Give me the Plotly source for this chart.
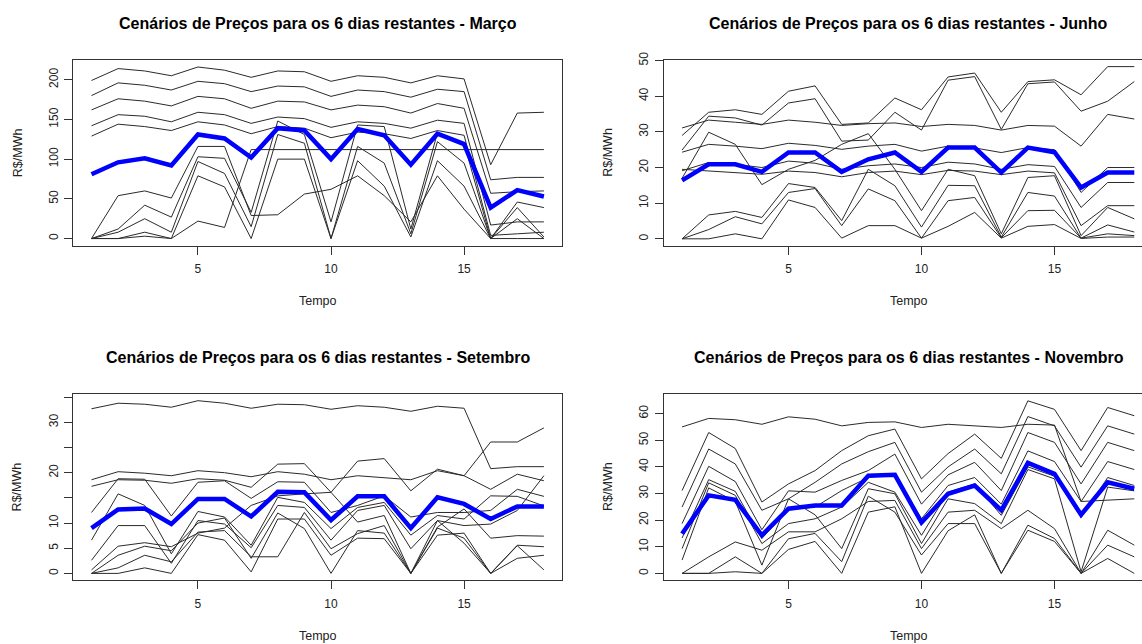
import plotly.graph_objects as go

tempo = list(range(1, 19))

# ---------------- Março ----------------
marco_cenarios = [
    [199, 214, 211, 205, 216, 212, 203, 211, 210, 198, 205, 203, 196, 205, 201, 93, 158, 159],
    [180, 196, 193, 187, 198, 195, 185, 192, 191, 179, 187, 185, 178, 188, 185, 74, 77, 77],
    [162, 176, 173, 167, 179, 176, 164, 173, 172, 162, 168, 166, 158, 170, 164, 57, 59, 60],
    [142, 156, 154, 147, 159, 156, 145, 153, 151, 140, 147, 145, 139, 149, 145, 17, 21, 21],
    [129, 144, 141, 136, 147, 143, 132, 141, 139, 127, 134, 132, 126, 136, 130, 4, 6, 8],
    [0, 0, 3, 0, 22, 14, 112, 112, 112, 112, 112, 112, 112, 112, 112, 112, 112, 112],
    [0, 54, 60, 51, 116, 116, 29, 30, 56, 62, 79, 54, 21, 79, 37, 0, 46, 39],
    [0, 12, 42, 27, 103, 101, 33, 148, 131, 21, 143, 141, 12, 133, 120, 0, 25, 0],
    [0, 8, 25, 8, 97, 82, 15, 131, 120, 0, 116, 95, 6, 122, 95, 0, 39, 2],
    [0, 0, 8, 0, 79, 65, 0, 100, 100, 0, 98, 66, 2, 98, 66, 0, 0, 0],
]
marco_media = [81, 96, 101, 92, 131, 126, 102, 139, 136, 100, 138, 130, 93, 132, 119, 39, 61, 53]

# ---------------- Junho ----------------
junho_cenarios = [
    [29, 35.5, 36.2, 34.9, 41.4, 42.9, 32.1, 32.5, 39.5, 36.2, 45.4, 46.5, 35.5, 44.1, 44.6, 40.4, 48.3, 48.3],
    [24.9, 34.4, 33.9, 31.9, 38.1, 39.3, 27.4, 27.7, 35.5, 30.5, 44.5, 45.5, 30.7, 43.5, 44.0, 35.8, 38.6, 44.1],
    [31.1, 33.3, 32.7, 32.1, 33.3, 32.7, 31.8, 32.3, 32.5, 31.5, 32.1, 31.8, 30.5, 31.8, 31.6, 26.0, 34.9, 33.6],
    [24.3, 26.5, 26.0, 25.3, 26.8, 26.2, 25.1, 26.0, 26.5, 24.6, 26.0, 25.5, 24.2, 25.6, 25.0, 13.0, 20.0, 20.0],
    [19.1, 21.4, 20.9, 20.0, 21.8, 21.2, 19.5, 20.5, 21.0, 20.0, 21.5, 21.0, 19.5, 20.8, 20.3, 8.8, 15.8, 15.8],
    [19.5, 19.0, 18.6, 18.1, 19.0, 18.6, 17.4, 18.6, 19.0, 18.0, 19.2, 19.0, 18.0, 19.0, 18.5, 3.7, 9.3, 9.3],
    [17.0, 29.9, 26.5, 15.2, 19.5, 22.0, 26.5, 29.5, 19.5, 7.9, 19.5, 17.7, 1.4, 17.2, 17.7, 0.9, 8.8, 5.6],
    [0, 6.7, 7.7, 6.0, 15.5, 14.4, 5.1, 19.5, 14.9, 3.3, 15.0, 14.9, 0.5, 13.0, 12.0, 0.2, 3.9, 1.9],
    [0, 2.6, 6.2, 4.2, 13.0, 14.1, 3.7, 14.0, 10.7, 0.2, 10.7, 11.6, 0.3, 7.9, 8.0, 0.2, 1.4, 0.9],
    [0, 0, 1.4, 0, 10.9, 8.8, 0.2, 3.7, 3.7, 0.2, 3.5, 7.4, 0.2, 3.5, 4.0, 0.1, 0.5, 0.5],
]
junho_media = [16.4, 20.9, 20.9, 18.8, 24.2, 24.2, 18.8, 22.3, 24.2, 18.8, 25.6, 25.6, 18.6, 25.6, 24.3, 14.4, 18.6, 18.6]

# ---------------- Setembro ----------------
setembro_cenarios = [
    [32.7, 33.8, 33.6, 33.0, 34.3, 33.8, 32.8, 33.6, 33.5, 32.6, 33.3, 33.0, 32.2, 33.2, 32.8, 20.8, 21.2, 21.2],
    [18.6, 20.2, 19.9, 19.4, 20.4, 20.0, 19.2, 20.2, 19.7, 18.6, 19.4, 19.0, 18.6, 20.4, 19.4, 26.1, 26.1, 28.9],
    [17.3, 18.6, 18.5, 17.9, 18.8, 18.5, 17.1, 21.7, 21.8, 16.1, 22.3, 22.8, 16.4, 20.7, 19.4, 16.7, 19.7, 18.4],
    [12.1, 18.8, 18.7, 11.4, 18.1, 18.4, 14.9, 18.2, 18.1, 12.1, 13.5, 15.4, 11.2, 12.1, 12.1, 12.5, 16.7, 15.3],
    [6.6, 15.8, 13.5, 3.9, 12.3, 11.2, 5.6, 15.1, 14.1, 8.9, 13.1, 14.1, 7.6, 11.5, 10.8, 15.4, 15.3, 13.4],
    [2.6, 9.5, 9.5, 2.0, 10.5, 9.8, 5.1, 13.5, 13.1, 6.6, 12.5, 13.5, 4.9, 10.5, 9.5, 9.8, 12.5, 19.4],
    [0.7, 5.4, 6.1, 5.3, 8.0, 9.0, 13.5, 15.4, 15.8, 16.1, 10.2, 11.5, 0, 9.2, 12.8, 7.0, 7.5, 7.4],
    [0, 1.1, 3.6, 2.3, 8.2, 8.5, 3.3, 3.3, 12.1, 4.9, 7.9, 9.5, 0, 7.6, 8.0, 0, 5.6, 5.3],
    [0, 0, 1.1, 0, 7.7, 6.6, 0.3, 10.8, 10.8, 3.6, 7.0, 6.9, 0, 10.5, 6.0, 0, 3.0, 3.6],
    [0, 3.6, 5.4, 4.5, 10.0, 11.0, 3.0, 12.0, 8.9, 0, 8.5, 8.0, 0, 9.0, 7.0, 0, 5.5, 0.7],
]
setembro_media = [9.0, 12.7, 12.9, 9.8, 14.8, 14.8, 11.3, 16.2, 16.1, 10.6, 15.3, 15.3, 9.0, 15.1, 13.8, 10.8, 13.3, 13.3]

# ---------------- Novembro ----------------
novembro_cenarios = [
    [55.0, 58.2, 57.7, 56.0, 58.8, 57.9, 55.4, 56.7, 56.9, 54.8, 56.0, 55.4, 54.8, 56.0, 55.7, 27.0, 27.5, 28.0],
    [31.1, 52.9, 46.9, 26.8, 33.6, 38.6, 46.1, 51.7, 54.2, 35.5, 45.0, 52.3, 43.2, 64.8, 61.6, 46.1, 62.3, 59.2],
    [24.9, 46.7, 41.1, 23.7, 28.0, 34.2, 41.1, 45.7, 49.2, 30.5, 40.0, 46.7, 37.4, 58.9, 55.4, 39.9, 55.4, 52.3],
    [18.7, 40.2, 34.5, 16.4, 31.0, 30.5, 34.9, 38.6, 44.8, 26.0, 37.0, 41.7, 31.1, 52.9, 49.2, 33.6, 49.2, 46.1],
    [13.3, 35.2, 30.8, 13.1, 24.0, 24.9, 31.1, 36.0, 37.4, 20.5, 33.0, 36.0, 26.0, 46.0, 42.0, 27.0, 42.0, 39.0],
    [9.3, 34.0, 29.3, 11.2, 18.7, 20.5, 24.9, 34.2, 30.5, 14.3, 30.5, 33.6, 21.8, 40.0, 36.5, 21.0, 36.0, 33.0],
    [5.0, 32.1, 27.0, 3.1, 28.0, 22.0, 9.3, 31.8, 29.9, 11.2, 28.0, 26.2, 18.7, 39.0, 35.5, 0.6, 32.4, 31.0],
    [0, 6.2, 11.8, 8.7, 15.6, 15.6, 20.5, 27.0, 27.4, 9.3, 23.0, 23.7, 16.8, 23.7, 16.8, 0, 16.2, 10.6],
    [0, 0, 6.2, 0, 13.0, 15.0, 4.4, 29.0, 23.0, 6.9, 18.7, 18.7, 0, 18.1, 13.1, 0, 10.6, 6.2],
    [0, 0, 0.6, 0, 9.0, 12.0, 0, 23.0, 25.0, 0, 16.0, 22.0, 0, 16.2, 12.0, 0, 5.6, 0],
]
novembro_media = [14.9, 29.3, 27.6, 14.3, 24.3, 25.5, 25.5, 36.7, 37.0, 19.1, 29.9, 33.0, 23.7, 41.5, 37.4, 22.0, 34.2, 31.8]

x_ticks = [5, 10, 15]

W, H = 1142, 644
FONT = "Liberation Sans, Arial, sans-serif"

# panel geometry (pixels)
panels = [
    dict(name="Março", cen=marco_cenarios, med=marco_media, x0=73.4, x1=562.0, y0=52.5, y1=240.7,
         xr=[0.32, 18.68], yr=[-9.0, 225.0], yt=[0, 50, 100, 150, 200], ytt=None),
    dict(name="Junho", cen=junho_cenarios, med=junho_media, x0=664.0, x1=1142.0, y0=52.5, y1=240.7,
         xr=[0.32, 0.32 + (1142 - 664) / 26.6], yr=[-1.93, 50.2], yt=[0, 10, 20, 30, 40, 50], ytt=None),
    dict(name="Setembro", cen=setembro_cenarios, med=setembro_media, x0=73.4, x1=562.0, y0=390.5, y1=579.5,
         xr=[0.32, 18.68], yr=[-1.37, 35.7], yt=[0, 5, 10, 15, 20, 25, 30, 35],
         ytt=["0", "5", "10", "", "20", "", "30", ""]),
    dict(name="Novembro", cen=novembro_cenarios, med=novembro_media, x0=664.0, x1=1142.0, y0=390.5, y1=579.5,
         xr=[0.32, 0.32 + (1142 - 664) / 26.6], yr=[-2.6, 67.5], yt=[0, 10, 20, 30, 40, 50, 60], ytt=None),
]

fig = go.Figure()
layout = dict(width=W, height=H, margin=dict(l=0, r=0, t=0, b=0),
              paper_bgcolor="white", plot_bgcolor="white", showlegend=False,
              font=dict(family=FONT, color="black", size=12))
annotations = []

for i, p in enumerate(panels, start=1):
    xa = "x" if i == 1 else f"x{i}"
    ya = "y" if i == 1 else f"y{i}"
    for serie in p["cen"]:
        fig.add_trace(go.Scatter(x=tempo, y=serie, mode="lines", xaxis=xa, yaxis=ya,
                                 line=dict(color="#2a2a2a", width=1), hoverinfo="skip"))
    fig.add_trace(go.Scatter(x=tempo, y=p["med"], mode="lines", xaxis=xa, yaxis=ya,
                             line=dict(color="#0000FF", width=4.5)))
    xd = [p["x0"] / W, min(p["x1"] / W, 1.0)]
    yd = [1 - p["y1"] / H, 1 - p["y0"] / H]
    xkey = "xaxis" if i == 1 else f"xaxis{i}"
    ykey = "yaxis" if i == 1 else f"yaxis{i}"
    layout[xkey] = dict(domain=xd, range=p["xr"], anchor=ya, tickvals=x_ticks,
                        ticks="outside", ticklen=8, tickcolor="#333", showgrid=False, zeroline=False,
                        showline=True, linecolor="#333", linewidth=1, mirror=True,
                        ticklabelstandoff=4,
                        tickfont=dict(size=12, color="#222"))
    yax = dict(domain=yd, range=p["yr"], anchor=xa, tickvals=p["yt"],
               ticks="outside", ticklen=8, tickcolor="#333", showgrid=False, zeroline=False,
               showline=True, linecolor="#333", linewidth=1, mirror=(p["x1"] < W),
               tickangle=-90, ticklabelstandoff=2, tickfont=dict(size=12, color="#222"))
    if p["ytt"] is not None:
        yax["ticktext"] = p["ytt"]
    layout[ykey] = yax

    cx = ((p["x0"] + p["x1"]) if p["x1"] < W else (p["x0"] + 1153.0)) / 2 / W
    annotations.append(dict(text=f"<b>Cenários de Preços para os 6 dias restantes - {p['name']}</b>",
                            x=cx, y=1 - (p["y0"] - 37) / H, xref="paper", yref="paper",
                            showarrow=False, xanchor="center", yanchor="middle",
                            font=dict(size=16, family=FONT, color="black")))
    annotations.append(dict(text="Tempo", x=cx, y=1 - (p["y1"] + 56) / H, xref="paper", yref="paper",
                            showarrow=False, xanchor="center", yanchor="middle",
                            font=dict(size=12.5, family=FONT, color="#222")))
    annotations.append(dict(text="R$/MWh", x=(p["x0"] - 56) / W, y=1 - (p["y0"] + p["y1"]) / 2 / H,
                            xref="paper", yref="paper", showarrow=False, textangle=-90,
                            xanchor="center", yanchor="middle",
                            font=dict(size=12.5, family=FONT, color="#222")))

layout["annotations"] = annotations
fig.update_layout(**layout)
fig.write_html("out.html", config={"displayModeBar": False},
               post_script="document.body.style.margin='0';document.body.style.overflow='hidden';")
